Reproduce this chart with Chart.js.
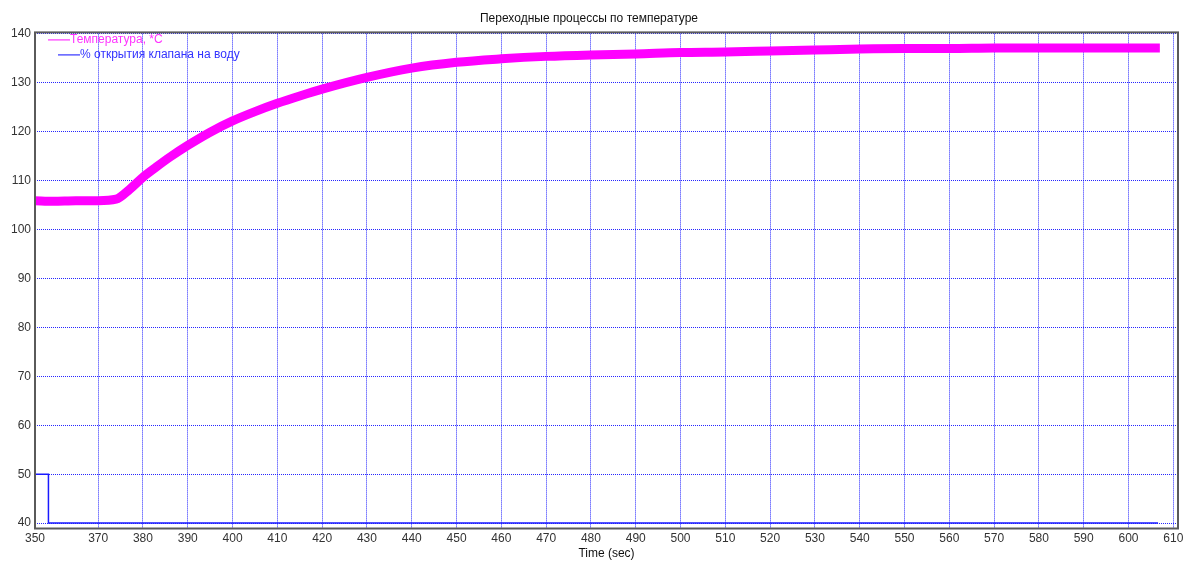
<!DOCTYPE html>
<html>
<head>
<meta charset="utf-8">
<script src="https://cdn.jsdelivr.net/npm/chart.js@4"></script>
<style>
  html, body { margin: 0; padding: 0; background: #fff; }
  #wrap { width: 1189px; height: 561px; }
</style>
</head>
<body>
<div id="wrap"><canvas id="chart"></canvas></div>
<script>
/* ─── Data ────────────────────────────────────────────────────── */
const chartTitle = 'Переходные процессы по температуре';
const xTitle = 'Time (sec)';

const tempLabel = 'Температура, *C';
const tempTime  = [355.9, 360, 365, 370, 374, 377, 380, 383, 386, 390, 395, 400, 405, 410, 415, 420, 430, 440, 450, 460, 470, 480, 490, 500, 510, 520, 530, 540, 550, 560, 570, 580, 590, 600, 607];
const tempValue = [105.9, 105.8, 105.9, 105.9, 106.2, 108.2, 110.7, 112.8, 114.8, 117.2, 119.9, 122.2, 124.1, 125.8, 127.3, 128.7, 131.1, 133.0, 134.2, 134.9, 135.4, 135.7, 135.9, 136.2, 136.3, 136.5, 136.7, 136.9, 137.0, 137.0, 137.1, 137.1, 137.1, 137.1, 137.1];

const valveLabel = '% открытия клапана на воду';
const valveTime  = [355.9, 358.9, 358.9, 606.6];
const valveValue = [50, 50, 40, 40];

const xMin = 355.9, xMax = 611.05;
const xTicks = [370, 380, 390, 400, 410, 420, 430, 440, 450, 460, 470, 480, 490, 500, 510, 520, 530, 540, 550, 560, 570, 580, 590, 600, 610];
const xFirstLabel = '350';
const yMin = 38.9, yMax = 140.3;
const yTicks = [40, 50, 60, 70, 80, 90, 100, 110, 120, 130, 140];

const pts = (xs, ys) => xs.map((x, i) => ({ x, y: ys[i] }));

/* ─── Plugins: frame + in-plot legend ────────────────────────── */
const framePlugin = {
    id: 'frame',
    afterDraw(chart) {
        const { ctx, chartArea: a } = chart;
        ctx.save();
        ctx.strokeStyle = '#5a5a5a';
        ctx.lineWidth = 2;
        ctx.strokeRect(a.left, a.top, a.right - a.left, a.bottom - a.top);
        ctx.restore();
    }
};

const legendPlugin = {
    id: 'insideLegend',
    afterDatasetsDraw(chart) {
        const { ctx, chartArea: a } = chart;
        const rows = [
            { ds: chart.data.datasets[0], x0: a.left + 13, y: a.top + 7.5 },
            { ds: chart.data.datasets[1], x0: a.left + 23, y: a.top + 22.5 }
        ];
        ctx.save();
        ctx.font = '12px "Liberation Sans", Arial, sans-serif';
        ctx.textBaseline = 'middle';
        rows.forEach(r => {
            ctx.strokeStyle = r.ds.legendColor;
            ctx.lineWidth = 1.2;
            ctx.beginPath();
            ctx.moveTo(r.x0, r.y);
            ctx.lineTo(r.x0 + 22, r.y);
            ctx.stroke();
            ctx.fillStyle = r.ds.legendColor;
            ctx.fillText(r.ds.label, r.x0 + 22, r.y);
        });
        ctx.restore();
    }
};

/* ─── Chart ──────────────────────────────────────────────────── */
const gridStyle = {
    color: 'rgba(0,0,255,0.85)',
    lineWidth: 1,
    drawTicks: false
};

new Chart(document.getElementById('chart'), {
    type: 'line',
    data: {
        datasets: [
            {
                label: tempLabel,
                data: pts(tempTime, tempValue),
                borderColor: '#ff00ff',
                legendColor: '#ff33ff',
                borderWidth: 9,
                borderCapStyle: 'butt',
                pointRadius: 0,
                cubicInterpolationMode: 'monotone',
                fill: false
            },
            {
                label: valveLabel,
                data: pts(valveTime, valveValue),
                borderColor: '#1a1aff',
                legendColor: '#3333ff',
                borderWidth: 1.5,
                pointRadius: 0,
                tension: 0,
                fill: false
            }
        ]
    },
    options: {
        responsive: true,
        maintainAspectRatio: false,
        animation: false,
        layout: { padding: { left: 0, right: 11, top: 0, bottom: 0 } },
        plugins: {
            legend: { display: false },
            tooltip: { enabled: false },
            title: {
                display: true,
                text: chartTitle,
                color: '#111',
                font: { family: '"Liberation Sans", Arial, sans-serif', size: 12, weight: 'normal' },
                padding: { top: 11, bottom: 7 }
            }
        },
        scales: {
            x: {
                type: 'linear',
                min: xMin,
                max: xMax,
                afterBuildTicks: s => { s.ticks = [{ value: xMin }].concat(xTicks.map(v => ({ value: v }))); },
                afterFit: s => { s.height = 32.5; },
                ticks: {
                    color: '#333',
                    padding: 3,
                    maxRotation: 0,
                    autoSkip: false,
                    font: { family: '"Liberation Sans", Arial, sans-serif', size: 12 },
                    callback: v => (v === xMin ? xFirstLabel : String(v))
                },
                grid: gridStyle,
                border: { display: false, dash: [1, 1] },
                title: {
                    display: true,
                    text: xTitle,
                    color: '#111',
                    padding: { top: 0, bottom: 0 },
                    font: { family: '"Liberation Sans", Arial, sans-serif', size: 12 }
                }
            },
            y: {
                type: 'linear',
                min: yMin,
                max: yMax,
                afterBuildTicks: s => { s.ticks = yTicks.map(v => ({ value: v })); },
                afterFit: s => { s.width = 35; },
                ticks: {
                    color: '#333',
                    padding: 4,
                    font: { family: '"Liberation Sans", Arial, sans-serif', size: 12 }
                },
                grid: gridStyle,
                border: { display: false, dash: [1, 1] }
            }
        }
    },
    plugins: [framePlugin, legendPlugin]
});
</script>
</body>
</html>
